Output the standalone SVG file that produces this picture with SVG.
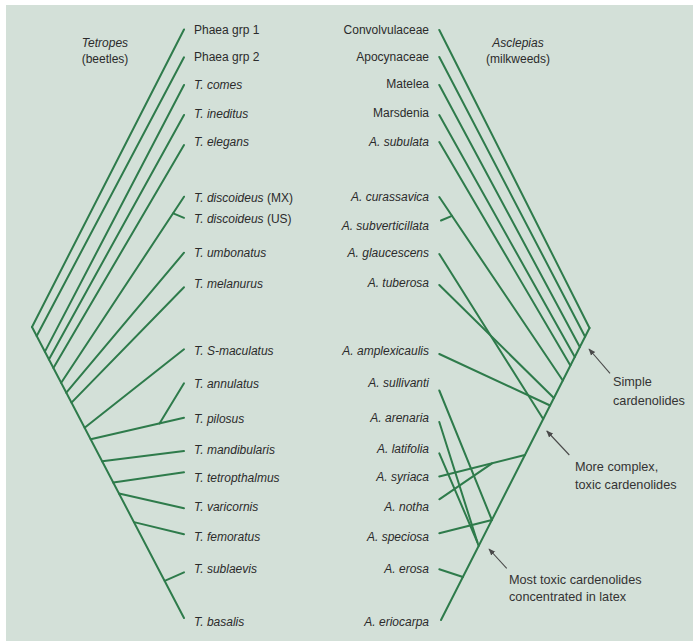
<svg xmlns="http://www.w3.org/2000/svg" width="696" height="643" viewBox="0 0 696 643">
<style>
.bg{fill:#d3e0d8}
.br{stroke:#2e7b4b;stroke-width:2;fill:none;stroke-linecap:round}
.ar{stroke:#4a4a4a;stroke-width:1.1;fill:none}
text{font-family:"Liberation Sans",Arial,sans-serif;font-size:12px;fill:#2b2b2b}
.i{font-style:italic}
.r{text-anchor:end}
.c{text-anchor:middle}
.an{font-size:12.7px;fill:#333}
</style>
<defs>
<marker id="ah" viewBox="0 0 10 10" refX="9" refY="5" markerWidth="7" markerHeight="7" orient="auto" markerUnits="userSpaceOnUse">
<path d="M0,1 L10,5 L0,9 Z" fill="#4a4a4a"/>
</marker>
</defs>
<rect width="696" height="643" fill="#ffffff"/>
<rect class="bg" x="6" y="5" width="687" height="636"/>

<g id="connectors">
<!-- left tree (Tetropes) -->
<line class="br" x1="32" y1="327" x2="184" y2="618"/>
<line class="br" x1="184" y1="29.5" x2="32" y2="327"/>
<line class="br" x1="184" y1="57.3" x2="36.7" y2="336"/>
<line class="br" x1="184" y1="85" x2="44.9" y2="351.6"/>
<line class="br" x1="184" y1="115" x2="48.9" y2="359.4"/>
<line class="br" x1="184" y1="145" x2="53.4" y2="368"/>
<line class="br" x1="184" y1="196.7" x2="61.2" y2="382.8"/>
<line class="br" x1="173.3" y1="213.3" x2="184" y2="217.8"/>
<line class="br" x1="184" y1="252.7" x2="66.3" y2="392.7"/>
<line class="br" x1="184" y1="287.3" x2="71.5" y2="402.6"/>
<line class="br" x1="184" y1="349.3" x2="84.6" y2="427.7"/>
<line class="br" x1="184" y1="383.3" x2="159.5" y2="423.4"/>
<line class="br" x1="184" y1="417.7" x2="90.7" y2="439.3"/>
<line class="br" x1="184" y1="451" x2="102.2" y2="461.3"/>
<line class="br" x1="184" y1="472.3" x2="113.3" y2="482.5"/>
<line class="br" x1="184" y1="508.3" x2="119" y2="493.6"/>
<line class="br" x1="184" y1="534.3" x2="134" y2="522.1"/>
<line class="br" x1="184" y1="572.3" x2="164.7" y2="580.9"/>
<!-- right tree (Asclepias) -->
<line class="br" x1="589.5" y1="328" x2="441" y2="620"/>
<line class="br" x1="439.3" y1="30" x2="589.5" y2="328"/>
<line class="br" x1="439.3" y1="57" x2="585.1" y2="336.7"/>
<line class="br" x1="439.3" y1="85" x2="579.8" y2="347"/>
<line class="br" x1="439.3" y1="115" x2="574.8" y2="357"/>
<line class="br" x1="439.3" y1="142" x2="570.4" y2="365.5"/>
<line class="br" x1="439.3" y1="197" x2="562.8" y2="380.5"/>
<line class="br" x1="452" y1="215.9" x2="441" y2="220.5"/>
<line class="br" x1="439.3" y1="254" x2="543.2" y2="419"/>
<line class="br" x1="439.3" y1="285" x2="553.9" y2="398"/>
<line class="br" x1="439.3" y1="354" x2="550.1" y2="405.5"/>
<line class="br" x1="439.3" y1="390.5" x2="491.9" y2="520"/>
<line class="br" x1="439.3" y1="422" x2="478.6" y2="546"/>
<line class="br" x1="439.3" y1="453.3" x2="477.3" y2="542"/>
<line class="br" x1="439.3" y1="476.5" x2="524.9" y2="455"/>
<line class="br" x1="439.3" y1="499.3" x2="492" y2="463.3"/>
<line class="br" x1="439.3" y1="533.3" x2="491.9" y2="520"/>
<line class="br" x1="439.3" y1="569.3" x2="462.9" y2="577"/>
</g>

<g id="headers">
<text class="i c" x="105" y="47">Tetropes</text>
<text class="c" x="105" y="63">(beetles)</text>
<text class="i c" x="518" y="47">Asclepias</text>
<text class="c" x="518" y="63">(milkweeds)</text>
</g>

<g id="tetropes-taxa">
<g id="phaea1"><text x="194" y="33.5">Phaea grp 1</text></g>
<g id="phaea2"><text x="194" y="61">Phaea grp 2</text></g>
<g id="t-comes"><text class="i" x="194" y="88.5">T. comes</text></g>
<g id="t-ineditus"><text class="i" x="194" y="117.5">T. ineditus</text></g>
<g id="t-elegans"><text class="i" x="194" y="146">T. elegans</text></g>
<g id="t-discoideus-mx"><text x="194" y="202"><tspan class="i">T. discoideus</tspan> (MX)</text></g>
<g id="t-discoideus-us"><text x="194" y="223"><tspan class="i">T. discoideus</tspan> (US)</text></g>
<g id="t-umbonatus"><text class="i" x="194" y="257">T. umbonatus</text></g>
<g id="t-melanurus"><text class="i" x="194" y="288">T. melanurus</text></g>
<g id="t-s-maculatus"><text class="i" x="194" y="354.5">T. S-maculatus</text></g>
<g id="t-annulatus"><text class="i" x="194" y="388">T. annulatus</text></g>
<g id="t-pilosus"><text class="i" x="194" y="423">T. pilosus</text></g>
<g id="t-mandibularis"><text class="i" x="194" y="454">T. mandibularis</text></g>
<g id="t-tetropthalmus"><text class="i" x="194" y="482">T. tetropthalmus</text></g>
<g id="t-varicornis"><text class="i" x="194" y="511">T. varicornis</text></g>
<g id="t-femoratus"><text class="i" x="194" y="541">T. femoratus</text></g>
<g id="t-sublaevis"><text class="i" x="194" y="573">T. sublaevis</text></g>
<g id="t-basalis"><text class="i" x="194" y="625.5">T. basalis</text></g>
</g>

<g id="asclepias-taxa">
<g id="convolvulaceae"><text class="r" x="429" y="33.5">Convolvulaceae</text></g>
<g id="apocynaceae"><text class="r" x="429" y="60.5">Apocynaceae</text></g>
<g id="matelea"><text class="r" x="429" y="88">Matelea</text></g>
<g id="marsdenia"><text class="r" x="429" y="116.5">Marsdenia</text></g>
<g id="a-subulata"><text class="i r" x="429" y="145.5">A. subulata</text></g>
<g id="a-curassavica"><text class="i r" x="429" y="200.5">A. curassavica</text></g>
<g id="a-subverticillata"><text class="i r" x="429" y="230">A. subverticillata</text></g>
<g id="a-glaucescens"><text class="i r" x="429" y="257">A. glaucescens</text></g>
<g id="a-tuberosa"><text class="i r" x="429" y="287">A. tuberosa</text></g>
<g id="a-amplexicaulis"><text class="i r" x="429" y="354.5">A. amplexicaulis</text></g>
<g id="a-sullivanti"><text class="i r" x="429" y="387">A. sullivanti</text></g>
<g id="a-arenaria"><text class="i r" x="429" y="422">A. arenaria</text></g>
<g id="a-latifolia"><text class="i r" x="429" y="452.5">A. latifolia</text></g>
<g id="a-syriaca"><text class="i r" x="429" y="481">A. syriaca</text></g>
<g id="a-notha"><text class="i r" x="429" y="510.5">A. notha</text></g>
<g id="a-speciosa"><text class="i r" x="429" y="541">A. speciosa</text></g>
<g id="a-erosa"><text class="i r" x="429" y="573">A. erosa</text></g>
<g id="a-eriocarpa"><text class="i r" x="429" y="625.5">A. eriocarpa</text></g>
</g>

<g id="annotations">
<line class="ar" x1="610" y1="373.3" x2="589" y2="349" marker-end="url(#ah)"/>
<line class="ar" x1="569.3" y1="455" x2="546.8" y2="431" marker-end="url(#ah)"/>
<line class="ar" x1="506.7" y1="568.3" x2="489" y2="549" marker-end="url(#ah)"/>
<g id="note-simple">
<text class="an" x="613" y="386">Simple</text>
<text class="an" x="613" y="404.5">cardenolides</text>
</g>
<g id="note-complex">
<text class="an" x="575" y="471">More complex,</text>
<text class="an" x="575" y="488.5">toxic cardenolides</text>
</g>
<g id="note-latex">
<text class="an" x="509" y="583.5">Most toxic cardenolides</text>
<text class="an" x="509" y="601">concentrated in latex</text>
</g>
</g>
</svg>
